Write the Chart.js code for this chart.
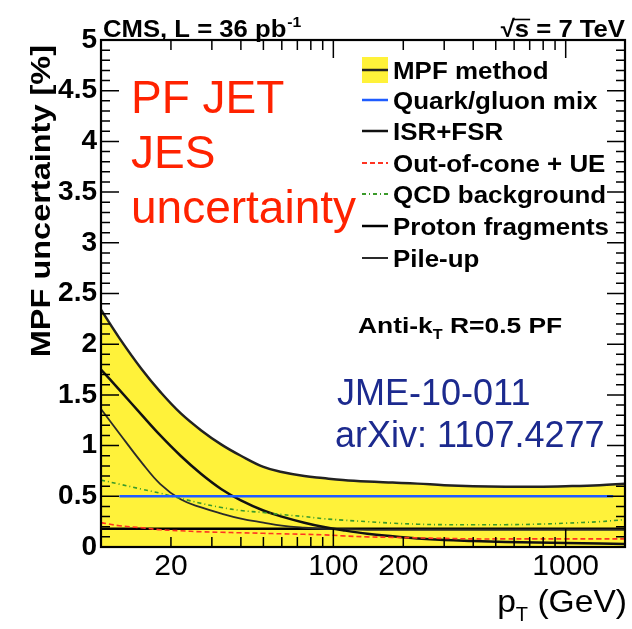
<!DOCTYPE html>
<html><head><meta charset="utf-8">
<script src="https://cdn.jsdelivr.net/npm/chart.js@4.4.1/dist/chart.umd.min.js"></script>
<style>html,body{margin:0;padding:0;background:#fff}canvas{display:block}</style>
</head><body>
<canvas id="c" width="632" height="629"></canvas>
<script>
// ---- data ----
const PT        = [10, 12, 15, 18, 22, 27, 33, 40, 50, 60, 75, 90, 110, 140, 180, 230, 300, 400, 550, 750, 1000, 1400, 1800];
const MPF_TOTAL = [2.34, 2.06, 1.75, 1.53, 1.32, 1.15, 1.01, 0.90, 0.79, 0.74, 0.70, 0.68, 0.66, 0.645, 0.635, 0.625, 0.61, 0.60, 0.595, 0.595, 0.60, 0.61, 0.625];
const ISR_FSR   = [1.75, 1.55, 1.30, 1.10, 0.90, 0.72, 0.57, 0.46, 0.36, 0.30, 0.24, 0.20, 0.165, 0.13, 0.105, 0.085, 0.07, 0.06, 0.05, 0.045, 0.04, 0.035, 0.03];
const OOC_UE    = [0.24, 0.21, 0.19, 0.17, 0.16, 0.15, 0.145, 0.14, 0.135, 0.13, 0.125, 0.12, 0.11, 0.10, 0.095, 0.09, 0.085, 0.08, 0.08, 0.08, 0.08, 0.08, 0.08];
const QCD_BKG   = [0.66, 0.62, 0.57, 0.53, 0.48, 0.43, 0.39, 0.36, 0.34, 0.32, 0.30, 0.28, 0.265, 0.25, 0.235, 0.225, 0.22, 0.22, 0.22, 0.225, 0.235, 0.25, 0.27];
const PROTON    = [0.18, 0.18, 0.18, 0.18, 0.18, 0.18, 0.18, 0.18, 0.18, 0.18, 0.18, 0.18, 0.18, 0.18, 0.18, 0.18, 0.18, 0.18, 0.18, 0.18, 0.18, 0.18, 0.18];
const PILEUP    = [1.36, 1.12, 0.83, 0.62, 0.47, 0.39, 0.33, 0.28, 0.24, 0.21, 0.19, 0.18, 0.175, 0.17, 0.17, 0.17, 0.17, 0.17, 0.17, 0.17, 0.17, 0.17, 0.17];
const QG_PT     = [12, 1600];
const QG_MIX    = [0.5, 0.5];
const X_TICKS   = [20, 100, 200, 1000];
const Y_TICKS   = [0, 0.5, 1, 1.5, 2, 2.5, 3, 3.5, 4, 4.5, 5];
const LABELS    = ['MPF method', 'Quark/gluon mix', 'ISR+FSR', 'Out-of-cone + UE', 'QCD background', 'Proton fragments', 'Pile-up'];

const FF = "'Liberation Sans', Arial, Helvetica, sans-serif";
const pts = (xs, ys) => xs.map((x, i) => ({x: x, y: ys[i]}));
const YELLOW = '#fff23a';

const datasets = [
  {label: LABELS[0], data: pts(PT, MPF_TOTAL), borderColor: '#222', borderWidth: 2.5, backgroundColor: YELLOW, fill: 'origin', order: 7},
  {label: LABELS[1], data: pts(QG_PT, QG_MIX), borderColor: '#1f5cff', borderWidth: 2.5, order: 1},
  {label: LABELS[2], data: pts(PT, ISR_FSR), borderColor: '#111', borderWidth: 2.5, order: 4},
  {label: LABELS[3], data: pts(PT, OOC_UE), borderColor: '#ff3322', borderWidth: 1.6, borderDash: [5, 3], order: 2},
  {label: LABELS[4], data: pts(PT, QCD_BKG), borderColor: '#3a9a2a', borderWidth: 1.6, borderDash: [4, 3, 1, 3], order: 3},
  {label: LABELS[5], data: pts(PT, PROTON), borderColor: '#000', borderWidth: 2.5, order: 6},
  {label: LABELS[6], data: pts(PT, PILEUP), borderColor: '#2a2a2a', borderWidth: 1.8, order: 5}
];
datasets.forEach(d => { d.pointRadius = 0; d.tension = 0.4; if (!d.fill) d.fill = false; });

function txt(ctx, s, x, y, size, weight, color, align, sx) {
  ctx.save();
  ctx.font = weight + ' ' + size + 'px ' + FF;
  ctx.fillStyle = color;
  ctx.textBaseline = 'alphabetic';
  ctx.textAlign = align || 'left';
  ctx.translate(x, y);
  ctx.scale(sx || 1, 1);
  ctx.fillText(s, 0, 0);
  ctx.restore();
}
function tw(ctx, s, size, weight, sx) {
  ctx.save(); ctx.font = weight + ' ' + size + 'px ' + FF;
  const w = ctx.measureText(s).width * (sx || 1); ctx.restore(); return w;
}

const framePlugin = {
  id: 'frame',
  afterDatasetsDraw(chart) {
    const ctx = chart.ctx, a = chart.chartArea, xs = chart.scales.x, ys = chart.scales.y;
    ctx.save();
    ctx.strokeStyle = '#000';
    ctx.lineWidth = 1.5;
    for (let i = 0; i <= 50; i++) {
      const v = i / 10, py = ys.getPixelForValue(v);
      const L = (i % 5 === 0) ? 18 : 9;
      ctx.beginPath();
      ctx.moveTo(a.left, py); ctx.lineTo(a.left + L, py);
      ctx.moveTo(a.right, py); ctx.lineTo(a.right - L, py);
      ctx.stroke();
    }
    const xt = [];
    for (let d = 10; d <= 1000; d *= 10) for (let k = 1; k <= 9; k++) xt.push({v: d * k, major: k === 1});
    xt.forEach(t => {
      if (t.v <= xs.min || t.v >= xs.max) return;
      const px = xs.getPixelForValue(t.v);
      const L = t.major ? 18 : 10;
      ctx.beginPath();
      ctx.moveTo(px, a.bottom); ctx.lineTo(px, a.bottom - L);
      ctx.moveTo(px, a.top); ctx.lineTo(px, a.top + L);
      ctx.stroke();
    });
    ctx.lineWidth = 2.2;
    ctx.strokeRect(a.left, a.top, a.right - a.left, a.bottom - a.top);
    ctx.restore();
  },
  afterDraw(chart) {
    const ctx = chart.ctx;
    const hs = 24, hsx = 1.07;
    const main = 'CMS, L = 36 pb';
    txt(ctx, main, 103, 37, hs, 'bold', '#000', 'left', hsx);
    txt(ctx, '-1', 103 + tw(ctx, main, hs, 'bold', hsx) + 1, 27, 15, 'bold', '#000', 'left', 1.05);
    const rest = ' = 7 TeV';
    const wr = tw(ctx, rest, hs, 'bold', hsx), wsv = tw(ctx, 's', hs, 'bold', hsx), wsq = tw(ctx, '\u221A', hs, 'bold', hsx);
    const xr = 625 - wr, xsv = xr - wsv, xsq = xsv - wsq;
    txt(ctx, rest, xr, 37, hs, 'bold', '#000', 'left', hsx);
    txt(ctx, 's', xsv, 37, hs, 'bold', '#000', 'left', hsx);
    txt(ctx, '\u221A', xsq, 37, hs, 'bold', '#000', 'left', hsx);
    ctx.save(); ctx.strokeStyle = '#000'; ctx.lineWidth = 1.6;
    ctx.beginPath(); ctx.moveTo(xsv - 1, 19.5); ctx.lineTo(xsv + wsv + 1, 19.5); ctx.stroke(); ctx.restore();

    ctx.save();
    ctx.font = 'bold 28px ' + FF; ctx.fillStyle = '#000';
    ctx.translate(50, 45); ctx.rotate(-Math.PI / 2); ctx.scale(1.16, 1);
    ctx.textAlign = 'right'; ctx.textBaseline = 'alphabetic';
    ctx.fillText('MPF uncertainty [%]', 0, 0);
    ctx.restore();

    const xsz = 32, xsx = 1.05;
    const wG = tw(ctx, ' (GeV)', xsz, 'normal', xsx), wT = tw(ctx, 'T', 20, 'normal', 1), wp = tw(ctx, 'p', xsz, 'normal', xsx);
    const x0 = 627 - wG - wT - wp;
    txt(ctx, 'p', x0, 612, xsz, 'normal', '#000', 'left', xsx);
    txt(ctx, 'T', x0 + wp, 621, 20, 'normal', '#000', 'left', 1);
    txt(ctx, ' (GeV)', x0 + wp + wT, 612, xsz, 'normal', '#000', 'left', xsx);

    const lx0 = 362, lx1 = 388, ltx = 393;
    const ly = [70, 100, 131, 163, 194, 226, 258];
    chart.data.datasets.forEach((d, i) => {
      const y = ly[i];
      ctx.save();
      if (d.fill === 'origin') {
        ctx.fillStyle = d.backgroundColor;
        ctx.fillRect(lx0, y - 13, lx1 - lx0, 26);
      }
      ctx.strokeStyle = d.borderColor;
      ctx.lineWidth = Math.max(2, d.borderWidth);
      ctx.setLineDash(d.borderDash || []);
      ctx.beginPath(); ctx.moveTo(lx0, y); ctx.lineTo(lx1, y); ctx.stroke();
      ctx.restore();
      txt(ctx, d.label, ltx, y + 8.5, 24, 'bold', '#000', 'left', 1.08);
    });

    const as = 22, asx = 1.2;
    const a1 = 'Anti-k';
    txt(ctx, a1, 358, 333, as, 'bold', '#000', 'left', asx);
    const wa1 = tw(ctx, a1, as, 'bold', asx);
    txt(ctx, 'T', 358 + wa1, 339, 14, 'bold', '#000', 'left', 1.15);
    const wT2 = tw(ctx, 'T', 14, 'bold', 1.15);
    txt(ctx, ' R=0.5 PF', 358 + wa1 + wT2, 333, as, 'bold', '#000', 'left', asx);

    const red = '#ff2200';
    txt(ctx, 'PF JET', 131, 113, 46, 'normal', red, 'left', 1);
    txt(ctx, 'JES', 131, 168, 46, 'normal', red, 'left', 1);
    txt(ctx, 'uncertainty', 131, 223, 46, 'normal', red, 'left', 1);

    const blue = '#1c2a8e';
    txt(ctx, 'JME-10-011', 337, 405, 36, 'normal', blue, 'left', 1);
    txt(ctx, 'arXiv: 1107.4277', 335, 447, 36, 'normal', blue, 'left', 1);
  }
};

new Chart(document.getElementById('c'), {
  type: 'line',
  data: {datasets: datasets},
  options: {
    responsive: false,
    animation: false,
    devicePixelRatio: 1,
    layout: {padding: {left: 0, right: 7, top: 40, bottom: 0}},
    plugins: {legend: {display: false}, tooltip: {enabled: false}},
    scales: {
      x: {
        type: 'logarithmic', min: 10, max: 1800,
        grid: {display: false, drawTicks: false}, border: {display: false},
        afterBuildTicks: s => { s.ticks = X_TICKS.map(v => ({value: v})); },
        afterFit: s => { s.height = 82; },
        ticks: {autoSkip: false, maxRotation: 0, padding: 2, color: '#000',
          font: {family: FF, size: 30}, callback: v => String(v)}
      },
      y: {
        type: 'linear', min: 0, max: 5,
        grid: {display: false, drawTicks: false}, border: {display: false},
        afterBuildTicks: s => { s.ticks = Y_TICKS.map(v => ({value: v})); },
        afterFit: s => { s.width = 101; },
        ticks: {autoSkip: false, padding: 4, color: '#000',
          font: {family: FF, size: 28, weight: 'bold'}, callback: v => String(+Number(v).toFixed(1))}
      }
    }
  },
  plugins: [framePlugin]
});
</script>
</body></html>
